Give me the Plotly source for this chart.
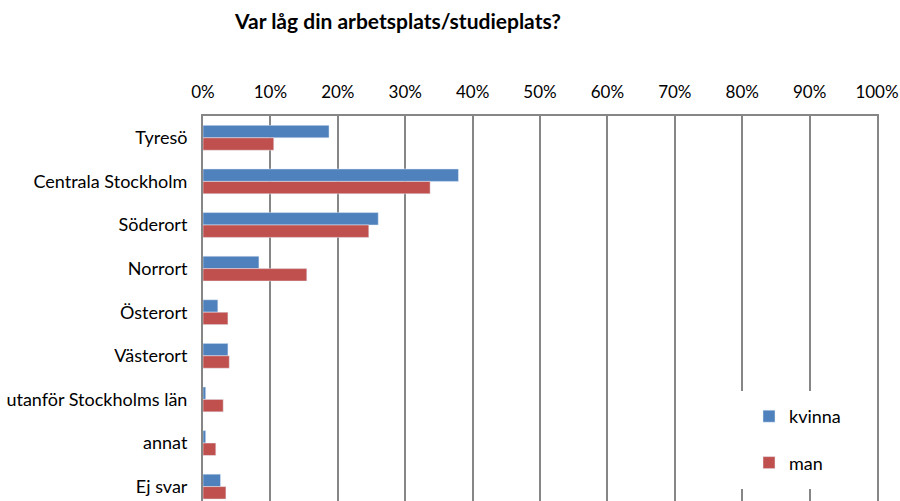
import plotly.graph_objects as go

categories = ["Tyresö", "Centrala Stockholm", "Söderort", "Norrort", "Österort",
              "Västerort", "utanför Stockholms län", "annat", "Ej svar"]
kvinna = [0.187, 0.379, 0.260, 0.083, 0.022, 0.037, 0.004, 0.004, 0.026]
man = [0.105, 0.337, 0.246, 0.154, 0.037, 0.039, 0.030, 0.019, 0.034]
x_ticks = [i / 10 for i in range(11)]

FONT = "Lato, Carlito, Calibri, sans-serif"
GRID = "#868686"
W, H = 900, 501

fig = go.Figure()
fig.add_trace(go.Bar(y=categories, x=kvinna, name="kvinna", orientation="h",
                     marker=dict(color="#4F81BD"), legendgroup="a"))
fig.add_trace(go.Bar(y=categories, x=man, name="man", orientation="h",
                     marker=dict(color="#C0504D"), legendgroup="b"))

# white legend background box (covers gridlines like the reference)
fig.add_shape(type="rect", xref="paper", yref="paper",
              x0=(738 - 203) / 674, x1=(870 - 203) / 674,
              y0=1 - (489 - 116) / 385, y1=1 - (391 - 116) / 385,
              fillcolor="white", line=dict(width=0), layer="above")

fig.update_layout(
    width=W, height=H,
    margin=dict(l=203, r=23, t=116, b=0),
    paper_bgcolor="white", plot_bgcolor="white",
    barmode="group", bargap=0.43, bargroupgap=0,
    font=dict(family=FONT, size=18, color="#000000"),
    title=dict(text="<b>Var låg din arbetsplats/studieplats?</b>",
               x=398 / W, xref="container", xanchor="center",
               y=1 - 22 / H, yref="container", yanchor="middle",
               font=dict(family=FONT, size=21, color="#000000")),
    xaxis=dict(side="top", range=[0, 1], tickvals=x_ticks, tickformat=".0%",
               tickfont=dict(size=17),
               showgrid=True, gridcolor=GRID, gridwidth=2,
               showline=True, linecolor=GRID, linewidth=2,
               ticks="", ticklabelstandoff=9, ticklabeloverflow="allow",
               zeroline=False, fixedrange=True),
    yaxis=dict(categoryorder="array", categoryarray=categories,
               range=[8.33, -0.5], showgrid=False,
               showline=True, linecolor=GRID, linewidth=2, mirror=True,
               ticks="", ticklabelstandoff=10, zeroline=False),
    legend=dict(x=(749 - 203) / 674, xanchor="left", y=1 - (398 - 116) / 385,
                yanchor="top", bgcolor="rgba(0,0,0,0)", borderwidth=0,
                traceorder="grouped", tracegroupgap=20, itemwidth=30,
                font=dict(family=FONT, size=18)),
)

fig.write_html(
    "out.html",
    config={"displayModeBar": False},
    post_script="document.body.style.margin='0';document.body.style.overflow='hidden';",
)
